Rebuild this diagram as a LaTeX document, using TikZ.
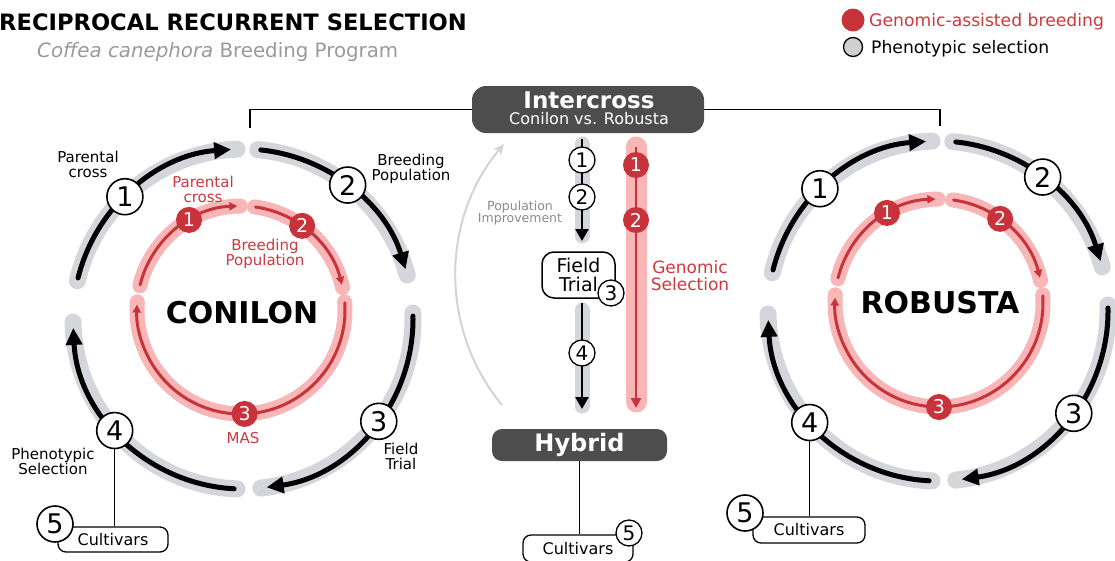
\documentclass[tikz,border=0pt]{standalone}
\usepackage{fontspec}
\setmainfont{DejaVu Sans}
\usetikzlibrary{arrows.meta,calc}
\definecolor{ringgray}{HTML}{D5D5DC}
\definecolor{pinkbg}{HTML}{F8B6B6}
\definecolor{gred}{HTML}{C8333B}
\definecolor{redtext}{HTML}{D0383F}
\definecolor{boxgray}{HTML}{4D4D4D}
\definecolor{subgray}{HTML}{9A9A9A}
\definecolor{popline}{HTML}{D3D3D8}
\definecolor{poptext}{HTML}{8C8C8C}
\definecolor{lgray}{HTML}{D0D0D0}
\newcommand\myfs[1]{\fontsize{#1}{#1}\selectfont}
\tikzset{
  graybg/.style={draw=ringgray, line width=17pt, line cap=round},
  blackarc/.style={draw=black, line width=5pt, line cap=round, -{Triangle[length=17pt,width=16pt]}},
  pinkline/.style={draw=pinkbg, line width=15pt, line cap=round},
  redarc/.style={draw=gred, line width=3pt, line cap=round, -{Triangle[length=8pt,width=8pt]}},
  numc/.style={circle, draw=black, fill=white, line width=1.6pt, minimum size=36pt, inner sep=0, font=\myfs{27}},
  snumc/.style={circle, draw=black, fill=white, line width=1.3pt, minimum size=26pt, inner sep=0, font=\myfs{20}},
  rnumc/.style={circle, fill=gred, text=white, minimum size=26pt, inner sep=0, font=\myfs{19}},
  lbl/.style={align=center, font=\myfs{15}, inner sep=0},
  rlbl/.style={lbl, text=redtext},
  darkbox/.style={fill=boxgray, rounded corners=14pt, inner sep=0},
  cultbox/.style={draw=black, fill=white, line width=1.3pt, rounded corners=8pt, inner sep=0, font=\myfs{16}},
  thinline/.style={draw=black, line width=1.2pt},
  colarrow/.style={draw=black, line width=2.5pt, -{Triangle[length=12pt,width=13pt]}},
}
\newcommand\phseg[4]{%
  \pgfmathsetmacro\myGs{#3+1}\pgfmathsetmacro\myGe{#4-2}%
  \draw[graybg] ($(#1)+(\myGs:#2)$) arc[start angle=\myGs, end angle=\myGe, radius=#2];%
  \draw[blackarc] ($(#1)+(#3:#2)$) arc[start angle=#3, end angle=#4, radius=#2];}
\newcommand\gsseg[4]{%
  \pgfmathsetmacro\myGs{#3+0.5}\pgfmathsetmacro\myGe{#4-1.5}%
  \draw[pinkline] ($(#1)+(\myGs:#2)$) arc[start angle=\myGs, end angle=\myGe, radius=#2];%
  \draw[redarc] ($(#1)+(#3:#2)$) arc[start angle=#3, end angle=#4, radius=#2];}
\begin{document}
\begin{tikzpicture}[x=1pt,y=1pt]
\useasboundingbox (0,0) rectangle (1115,-560);
\fill[white] (0,0) rectangle (1115,-560);

% title and legend
\node[anchor=base west, inner sep=0, font=\myfs{22.6}\bfseries] (title) at (-1,-30) {RECIPROCAL RECURRENT SELECTION};
\node[anchor=base west, inner sep=0, text=subgray, font=\myfs{19.8}] (subtitle) at (37,-57) {\textit{Coffea canephora} Breeding Program};
\node[circle, fill=gred, minimum size=23pt, inner sep=0] (lg1) at (853,-20) {};
\node[anchor=base west, text=redtext, font=\myfs{17.2}, inner sep=0] (lg1t) at (869,-26) {Genomic-assisted breeding};
\node[circle, fill=lgray, draw=black, line width=1.3pt, minimum size=19pt, inner sep=0] (lg2) at (853,-47) {};
\node[anchor=base west, font=\myfs{17.2}, inner sep=0] (lg2t) at (871,-53) {Phenotypic selection};

% centres
\coordinate (L) at (243,-319);
\coordinate (LI) at (241,-310);
\coordinate (R) at (938,-311);
\coordinate (RI) at (939,-303);

% outer rings
\phseg{L}{170pt}{166}{94}
\phseg{L}{170pt}{84}{17}
\phseg{L}{170pt}{1}{-82}
\phseg{L}{170pt}{-93}{-177}
\phseg{R}{170pt}{166}{94}
\phseg{R}{170pt}{84}{17}
\phseg{R}{170pt}{1}{-82}
\phseg{R}{170pt}{-93}{-177}

% inner rings
\gsseg{LI}{104pt}{166}{92}
\gsseg{LI}{104pt}{82}{14}
\gsseg{LI}{104pt}{4}{-183}
\gsseg{RI}{104pt}{166}{92}
\gsseg{RI}{104pt}{82}{14}
\gsseg{RI}{104pt}{4}{-183}

% left cycle nodes
\node[numc] (l1) at ($(L)+(134:170pt)$) {1};
\node[numc] (l2) at ($(L)+(52:170pt)$) {2};
\node[numc] (l3) at ($(L)+(-37:170pt)$) {3};
\node[numc] (l4) at ($(L)+(-139:170pt)$) {4};
\node[rnumc] (lr1) at ($(LI)+(120:104pt)$) {1};
\node[rnumc] (lr2) at ($(LI)+(54:104pt)$) {2};
\node[rnumc] (lr3) at ($(LI)+(-88:104pt)$) {3};
\node[lbl] (lpc) at (88,-164) {Parental\\cross};
\node[lbl] (lbp) at (411,-169) {Breeding\\Population};
\node[lbl] (lft) at (401,-456) {Field\\Trial};
\node[lbl] (lps) at (53,-461) {Phenotypic\\Selection};
\node[rlbl] (lrpc) at (203,-189) {Parental\\cross};
\node[rlbl] (lrbp) at (265,-254) {Breeding\\Population};
\node[rlbl] (lrmas) at (243,-438) {MAS};
\node[font=\myfs{30}\bfseries, inner sep=0] (conilon) at (242,-313) {CONILON};

% right cycle nodes
\node[numc] (r1) at ($(R)+(134:170pt)$) {1};
\node[numc] (r2) at ($(R)+(52:170pt)$) {2};
\node[numc] (r3) at ($(R)+(-37:170pt)$) {3};
\node[numc] (r4) at ($(R)+(-139:170pt)$) {4};
\node[rnumc] (rr1) at ($(RI)+(120:104pt)$) {1};
\node[rnumc] (rr2) at ($(RI)+(54:104pt)$) {2};
\node[rnumc] (rr3) at ($(RI)+(-90:104pt)$) {3};
\node[font=\myfs{30}\bfseries, inner sep=0] (robusta) at (940,-303) {ROBUSTA};

% intercross
\node[darkbox, minimum width=232pt, minimum height=47pt] (inter) at (588,-109.5) {};
\node[text=white, font=\myfs{23}\bfseries, inner sep=0] (intert) at (589,-100) {Intercross};
\node[text=white, font=\myfs{16}, inner sep=0] (intersub) at (589,-119) {Conilon vs. Robusta};
\coordinate (ltop) at (250,-128);
\coordinate (rtop) at (940,-126);
\draw[thinline] (inter.west) -| (ltop);
\draw[thinline] (inter.east) -| (rtop);

% population improvement
\coordinate (pc1) at (502,-405);
\coordinate (pc2) at (504,-144);
\draw[popline, line width=2pt, -{Stealth[length=11pt,width=10pt]}] (pc1) .. controls (440,-330) and (440,-220) .. (pc2);
\node[align=center, text=poptext, font=\fontsize{12.5}{11}\selectfont, inner sep=0] (popt) at (520,-213) {Population\\Improvement};

% phenotypic column
\coordinate (c1a) at (582,-144);
\coordinate (c1b) at (582,-236);
\coordinate (c1s) at (582,-139);
\coordinate (c1e) at (582,-241);
\draw[graybg, line width=15pt] (c1a) -- (c1b);
\draw[colarrow] (c1s) -- (c1e);
\node[snumc] (m1) at (582,-160) {1};
\node[snumc] (m2) at (582,-197) {2};
\node[draw=black, line width=1.5pt, fill=white, rounded corners=12pt, minimum width=73pt, minimum height=46pt, align=center, font=\myfs{19}, inner sep=0] (ft) at (578.5,-275) {Field\\Trial};
\node[snumc] (m3) at (611,-293) {3};
\coordinate (c2a) at (582,-310);
\coordinate (c2b) at (582,-406);
\coordinate (c2s) at (582,-303);
\coordinate (c2e) at (582,-409);
\draw[graybg, line width=15pt] (c2a) -- (c2b);
\draw[colarrow] (c2s) -- (c2e);
\node[snumc] (m4) at (582,-353) {4};

% genomic column
\coordinate (g1a) at (636,-147);
\coordinate (g1b) at (636,-402);
\coordinate (g1e) at (636,-408);
\draw[pinkline, line width=21pt] (g1a) -- (g1b);
\draw[draw=gred, line width=2.8pt, -{Triangle[length=10pt,width=10pt]}] (g1a) -- (g1e);
\node[rnumc] (g1) at (636,-165) {1};
\node[rnumc] (g2) at (636,-220) {2};
\node[rlbl, font=\myfs{17}] (gstext) at (690,-276) {Genomic\\Selection};

% hybrid
\node[darkbox, rounded corners=10pt, minimum width=175pt, minimum height=32pt, text=white, font=\myfs{24}\bfseries] (hyb) at (579.5,-445) {Hybrid};

% cultivars
\node[cultbox, minimum width=110pt, minimum height=27pt] (cultC) at (578,-548.5) {Cultivars};
\draw[thinline] (hyb.south) -- (hyb.south |- cultC.north);
\node[snumc] (c5) at (629,-533) {5};

\node[cultbox, minimum width=110pt, minimum height=25pt] (cultL) at (113,-539.5) {Cultivars};
\draw[thinline] (l4.south) -- (l4.south |- cultL.north);
\node[numc] (l5) at (55,-524) {5};

\node[cultbox, minimum width=112pt, minimum height=26pt] (cultR) at (809,-530) {Cultivars};
\draw[thinline] (r4.south) -- (r4.south |- cultR.north);
\node[numc] (r5) at (745,-513) {5};
\end{tikzpicture}
\end{document}
